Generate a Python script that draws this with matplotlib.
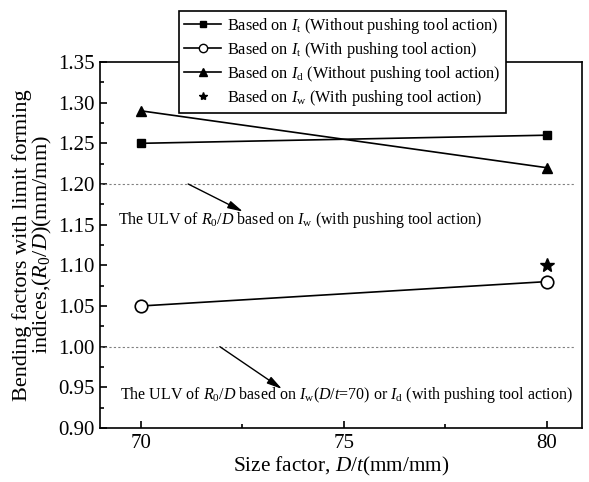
import matplotlib
matplotlib.use("Agg")
import matplotlib.pyplot as plt
from matplotlib.lines import Line2D
from matplotlib.ticker import MultipleLocator, FormatStrFormatter

plt.rcParams["font.family"] = "Liberation Serif"
plt.rcParams["mathtext.fontset"] = "custom"
plt.rcParams["mathtext.rm"] = "Liberation Serif"
plt.rcParams["mathtext.it"] = "Liberation Serif:italic"

# size factor D/t
size_factor = [70, 80]
# bending factors R0/D for each limit forming index
it_without = [1.25, 1.26]
it_with = [1.05, 1.08]
id_without = [1.29, 1.22]
iw_with_x = [80]
iw_with = [1.10]
ulv_levels = [1.20, 1.00]

fig = plt.figure(figsize=(5.89, 4.82), dpi=100)
ax = fig.add_axes([0.1698, 0.112, 0.818, 0.7594])

ax.plot(size_factor, it_without, color="black", lw=1.2, marker="s", ms=5.5)
ax.plot(size_factor, it_with, color="black", lw=1.2, marker="o", ms=9,
        mfc="white", mew=1.2)
ax.plot(size_factor, id_without, color="black", lw=1.2, marker="^", ms=7)
ax.plot(iw_with_x, iw_with, ls="none", color="black", marker="*", ms=10)

for lvl in ulv_levels:
    ax.axhline(lvl, xmin=0.0, xmax=0.985, color="gray", lw=0.8, ls=(0, (2, 2)))

ax.set_xlim(69.0, 80.86)
ax.set_ylim(0.90, 1.35)
ax.xaxis.set_major_locator(MultipleLocator(5))
ax.xaxis.set_minor_locator(MultipleLocator(2.5))
ax.yaxis.set_major_locator(MultipleLocator(0.05))
ax.yaxis.set_minor_locator(MultipleLocator(0.025))
ax.yaxis.set_major_formatter(FormatStrFormatter("%.2f"))
ax.tick_params(which="both", direction="in", labelsize=15, width=1.2)
ax.tick_params(which="major", length=5, pad=4)
ax.tick_params(which="minor", length=3)
for sp in ax.spines.values():
    sp.set_linewidth(1.2)

ax.set_xlabel("Size factor, $D/t$(mm/mm)", fontsize=15.3, labelpad=2)
ax.set_ylabel("Bending factors with limit forming\nindices,$(R_0/D)$(mm/mm)",
              fontsize=16, linespacing=0.9, labelpad=3)

# arrows pointing from the limit lines to their notes
arrow_style = dict(arrowstyle="-|>,head_length=0.7,head_width=0.18", color="black",
                   lw=1, mutation_scale=13, shrinkA=0, shrinkB=0)
ax.annotate("The ULV of $R_0/D$ based on $I_\\mathrm{w}$ (with pushing tool action)",
            xy=(69.45, 1.156), fontsize=11.5, va="center", ha="left")
ax.annotate("", xy=(72.52, 1.166), xytext=(71.17, 1.20), arrowprops=arrow_style)
ax.annotate("The ULV of $R_0/D$ based on $I_\\mathrm{w}$($D/t$=70) or $I_\\mathrm{d}$ (with pushing tool action)",
            xy=(69.5, 0.941), fontsize=11.5, va="center", ha="left")
ax.annotate("", xy=(73.48, 0.948), xytext=(71.95, 1.00), arrowprops=arrow_style)

handles = [
    Line2D([], [], color="black", lw=1.2, marker="s", ms=5),
    Line2D([], [], color="black", lw=1.2, marker="o", ms=6, mfc="white"),
    Line2D([], [], color="black", lw=1.2, marker="^", ms=6),
    Line2D([], [], color="black", ls="none", marker="*", ms=6),
]
labels = [
    "Based on $I_\\mathrm{t}$ (Without pushing tool action)",
    "Based on $I_\\mathrm{t}$ (With pushing tool action)",
    "Based on $I_\\mathrm{d}$ (Without pushing tool action)",
    "Based on $I_\\mathrm{w}$ (With pushing tool action)",
]
leg = fig.legend(handles, labels, loc="upper left", bbox_to_anchor=(0.304, 0.977),
                 numpoints=1, handlelength=2.3, handletextpad=0.37, fontsize=11.7,
                 frameon=True, fancybox=False, edgecolor="black", framealpha=1,
                 borderpad=0.3, labelspacing=0.25, borderaxespad=0)
leg.get_frame().set_linewidth(1.2)

fig.savefig("out.png", dpi=100)
